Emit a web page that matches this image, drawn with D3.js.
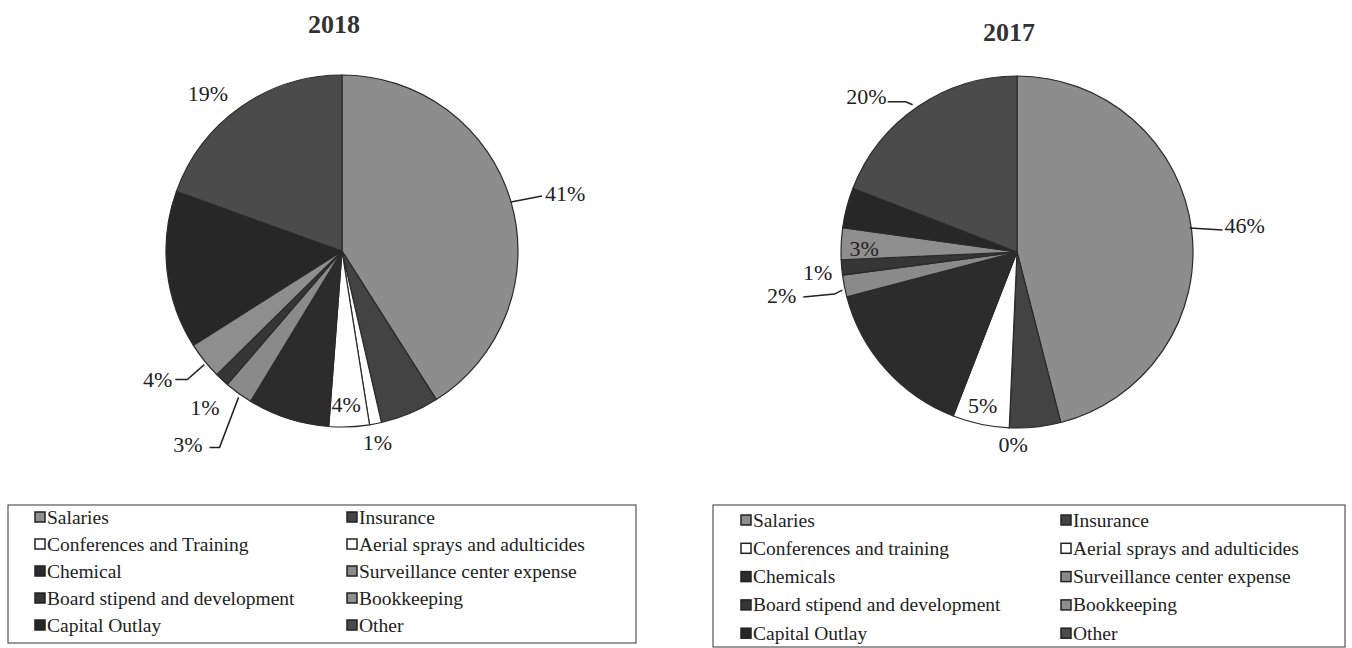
<!DOCTYPE html>
<html>
<head>
<meta charset="utf-8">
<script src="https://cdn.jsdelivr.net/npm/d3@7"></script>
<style>
  html, body { margin: 0; padding: 0; background: #fff; }
  svg { display: block; font-family: "Liberation Serif", "Times New Roman", serif; }
</style>
</head>
<body>
<svg id="chart" width="1352" height="648"></svg>
<script>
// ---- data ----
const categories2018 = ["Salaries", "Insurance", "Conferences and Training", "Aerial sprays and adulticides",
  "Chemical", "Surveillance center expense", "Board stipend and development", "Bookkeeping", "Capital Outlay", "Other"];
const categories2017 = ["Salaries", "Insurance", "Conferences and training", "Aerial sprays and adulticides",
  "Chemicals", "Surveillance center expense", "Board stipend and development", "Bookkeeping", "Capital Outlay", "Other"];
const values2018 = [41, 5.4, 1.1, 3.7, 7.5, 2.6, 1.3, 3.4, 14.5, 19.5];
const values2017 = [46, 4.7, 0, 5.2, 15, 2, 1.4, 2.9, 3.7, 19.1];
const labels2018 = ["41%", null, "1%", "4%", null, "3%", "1%", "4%", null, "19%"];
const labels2017 = ["46%", null, "0%", "5%", null, "2%", "1%", "3%", null, "20%"];
const sliceColors = ["#8d8d8d", "#434343", "#ffffff", "#ffffff", "#2c2c2c", "#8a8a8a", "#363636", "#8e8e8e", "#272727", "#4b4b4b"];

// ---- layout ----
const svg = d3.select("#chart");
const R = 176;

// label layout: offsets relative to the slice's outer mid-point, optional leader polyline
const labelLayout2018 = {
  0: { dx: 34, dy: -8, anchor: "start", leader: [[0, 0], [31, -6]] },
  2: { dx: 2, dy: 19, anchor: "middle" },
  3: { dx: -3, dy: -22, anchor: "middle" },
  5: { dx: -36, dy: 51, anchor: "end", leader: [[0, 4], [-19, 54], [-29, 54]] },
  6: { dx: -17, dy: 28, anchor: "middle" },
  7: { dx: -32, dy: 19, anchor: "end", leader: [[0, 4], [-17, 19], [-29, 19]] },
  9: { dx: -33, dy: -14, anchor: "middle" }
};
const labelLayout2017 = {
  0: { dx: 33, dy: -4, anchor: "start", leader: [[-2, -2], [31, 0]] },
  2: { dx: 4, dy: 17, anchor: "middle" },
  3: { dx: 2, dy: -19, anchor: "middle" },
  5: { dx: -48, dy: 9, anchor: "end", leader: [[-2, 4], [-10, 8], [-41, 11]] },
  6: { dx: -24, dy: 5, anchor: "middle" },
  7: { dx: 23, dy: 5, anchor: "middle" },
  9: { dx: -31, dy: -10, anchor: "end", leader: [[-5, -2], [-12, -5], [-30, -5]] }
};

function drawPie(cx, cy, title, titleY, cats, vals, labels, layout) {
  const g = svg.append("g").attr("transform", `translate(${cx},${cy})`);
  const pie = d3.pie().sort(null).value(d => d)(vals);
  const arc = d3.arc().innerRadius(0).outerRadius(R);
  g.selectAll("path.slice").data(pie).enter().append("path")
    .attr("class", "slice")
    .attr("d", arc)
    .attr("fill", (d, i) => sliceColors[i])
    .attr("stroke", "#2a2a2a")
    .attr("stroke-width", 1.2)
    .attr("stroke-linejoin", "round");

  svg.append("text")
    .attr("x", cx - 8).attr("y", titleY)
    .attr("text-anchor", "middle")
    .attr("font-size", 26).attr("font-weight", "bold").attr("fill", "#333")
    .text(title);

  pie.forEach((d, i) => {
    if (!labels[i]) return;
    const L = layout[i];
    const a = (d.startAngle + d.endAngle) / 2;
    const ex = R * Math.sin(a), ey = -R * Math.cos(a);
    if (L.leader) {
      g.append("path")
        .attr("d", d3.line()(L.leader.map(p => [ex + p[0], ey + p[1]])))
        .attr("fill", "none").attr("stroke", "#222").attr("stroke-width", 1.5);
    }
    g.append("text")
      .attr("x", ex + L.dx).attr("y", ey + L.dy)
      .attr("text-anchor", L.anchor)
      .attr("dominant-baseline", "central")
      .attr("font-size", 22).attr("fill", "#222")
      .text(labels[i]);
  });
}

function drawLegend(x0, y0, w, h, cats, rowY0, rowGap, col1x, col2x) {
  const g = svg.append("g");
  g.append("rect").attr("x", x0).attr("y", y0).attr("width", w).attr("height", h)
    .attr("fill", "none").attr("stroke", "#555").attr("stroke-width", 1.2);
  cats.forEach((c, i) => {
    const col = i % 2, row = Math.floor(i / 2);
    const x = col === 0 ? col1x : col2x;
    const y = rowY0 + row * rowGap;
    g.append("rect").attr("x", x).attr("y", y - 5).attr("width", 10).attr("height", 10)
      .attr("fill", sliceColors[i]).attr("stroke", "#222").attr("stroke-width", 1.5);
    g.append("text").attr("x", x + 12).attr("y", y)
      .attr("dominant-baseline", "central")
      .attr("font-size", 19.5).attr("fill", "#222")
      .text(c);
  });
}

drawPie(342, 251, "2018", 33, categories2018, values2018, labels2018, labelLayout2018);
drawPie(1017, 252, "2017", 41, categories2017, values2017, labels2017, labelLayout2017);

drawLegend(8, 505, 628, 138, categories2018, 517, 27, 35, 347);
drawLegend(713, 505, 632, 142, categories2017, 520, 28.3, 741, 1061);
</script>
</body>
</html>
